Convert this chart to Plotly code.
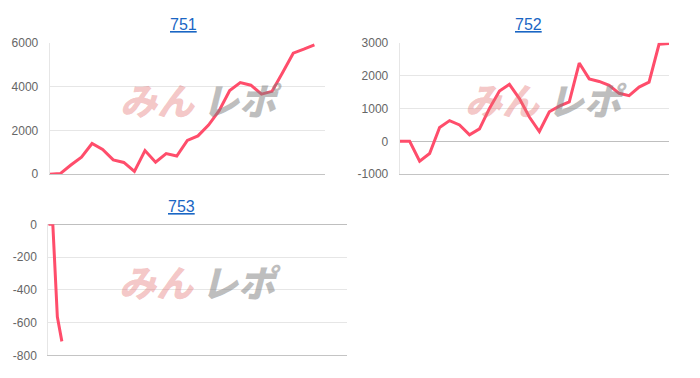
import plotly.graph_objects as go

# ---- data ----
titles = ["751", "752", "753"]
d751 = [0, 30, 420, 780, 1400, 1130, 655, 540, 130, 1080, 550, 940, 830, 1540,
        1750, 2240, 2900, 3820, 4180, 4060, 3650, 3780, 4640, 5520, 5700, 5900]
d752 = [0, 0, -600, -370, 420, 630, 500, 200, 380, 1000, 1530, 1730, 1300, 740,
        300, 900, 1070, 1200, 2380, 1900, 1820, 1700, 1460, 1390, 1650, 1800, 2950, 2970]
d753 = [0, 0, -565, -715]
n_days = [27, 28, 67]          # number of x categories per chart
ticks751 = [0, 2000, 4000, 6000]
ticks752 = [-1000, 0, 1000, 2000, 3000]
ticks753 = [-800, -600, -400, -200, 0]

W, H = 700, 378
def px(x): return x / W
def py(y): return 1 - y / H

LINE = "#ff4d6b"
TICKF = dict(family="Liberation Sans, Arial, sans-serif", size=12, color="#666666")

fig = go.Figure()
series = [d751, d752, d753]
for i, s in enumerate(series):
    fig.add_trace(go.Scatter(
        x=list(range(len(s))), y=s, mode="lines",
        line=dict(color=LINE, width=3),
        xaxis="x" if i == 0 else f"x{i+1}",
        yaxis="y" if i == 0 else f"y{i+1}",
        showlegend=False, hoverinfo="skip"))

# panel geometry (pixels)
panels = [
    dict(x0=49.7, x1=325, y0=37, y1=173.7, ticks=ticks751, rng=[0, 6000]),
    dict(x0=399.7, x1=669, y0=37, y1=173.7, ticks=ticks752, rng=[-1000, 3000]),
    dict(x0=48.3, x1=346.7, y0=225.7, y1=361.7, ticks=ticks753, rng=[-800, 0]),
]

for i, p in enumerate(panels):
    sx = "" if i == 0 else str(i + 1)
    fig.update_layout(**{
        f"xaxis{sx}": dict(domain=[px(p["x0"]), px(p["x1"])], anchor=f"y{sx}",
                           range=[0, n_days[i] - 1], showgrid=False, zeroline=False,
                           showticklabels=False, showline=True, linecolor="#c4c4c4",
                           linewidth=1, ticks="", fixedrange=True),
        f"yaxis{sx}": dict(domain=[py(p["y1"]), py(p["y0"])], anchor=f"x{sx}",
                           range=p["rng"], tickmode="array", tickvals=p["ticks"],
                           ticktext=[str(v) for v in p["ticks"]],
                           showgrid=True, gridcolor="#e6e6e6", gridwidth=1,
                           zeroline=True, zerolinecolor="#bfbfbf", zerolinewidth=1,
                           showline=True, linecolor="#e6e6e6", linewidth=1,
                           ticks="outside", ticklen=8, tickcolor="rgba(0,0,0,0)",
                           tickfont=TICKF, fixedrange=True),
    })

annotations = []
title_pos = [(183.3, 18.5), (528, 18.5), (181, 207)]
for t, (x, y) in zip(titles, title_pos):
    annotations.append(dict(text=t, x=px(x), y=py(y), xref="paper", yref="paper",
                            xanchor="center", yanchor="middle", showarrow=False,
                            font=dict(family="Liberation Sans, Arial, sans-serif",
                                      size=16, color="#1a66c4", lineposition="under")))

wm_pos = [(199, 96), (544, 96), (198, 285)]
WMF = "Noto Sans CJK JP Black, Noto Sans CJK JP"
for (x, y) in wm_pos:
    annotations.append(dict(text="<b>みん</b>", x=px(x - 1), y=py(y), xref="paper", yref="paper",
                            xanchor="right", yanchor="middle", showarrow=False,
                            font=dict(family=WMF, size=37,
                                      color="rgba(228,110,110,0.40)",
                                      weight=900, style="italic")))
    annotations.append(dict(text="<b>レポ</b>", x=px(x + 1), y=py(y), xref="paper", yref="paper",
                            xanchor="left", yanchor="middle", showarrow=False,
                            font=dict(family=WMF, size=37,
                                      color="rgba(125,125,125,0.50)",
                                      weight=900, style="italic")))

fig.update_layout(width=W, height=H, margin=dict(l=0, r=0, t=0, b=0),
                  paper_bgcolor="white", plot_bgcolor="white",
                  annotations=annotations, showlegend=False)

fig.write_html("out.html", config={"displayModeBar": False})
